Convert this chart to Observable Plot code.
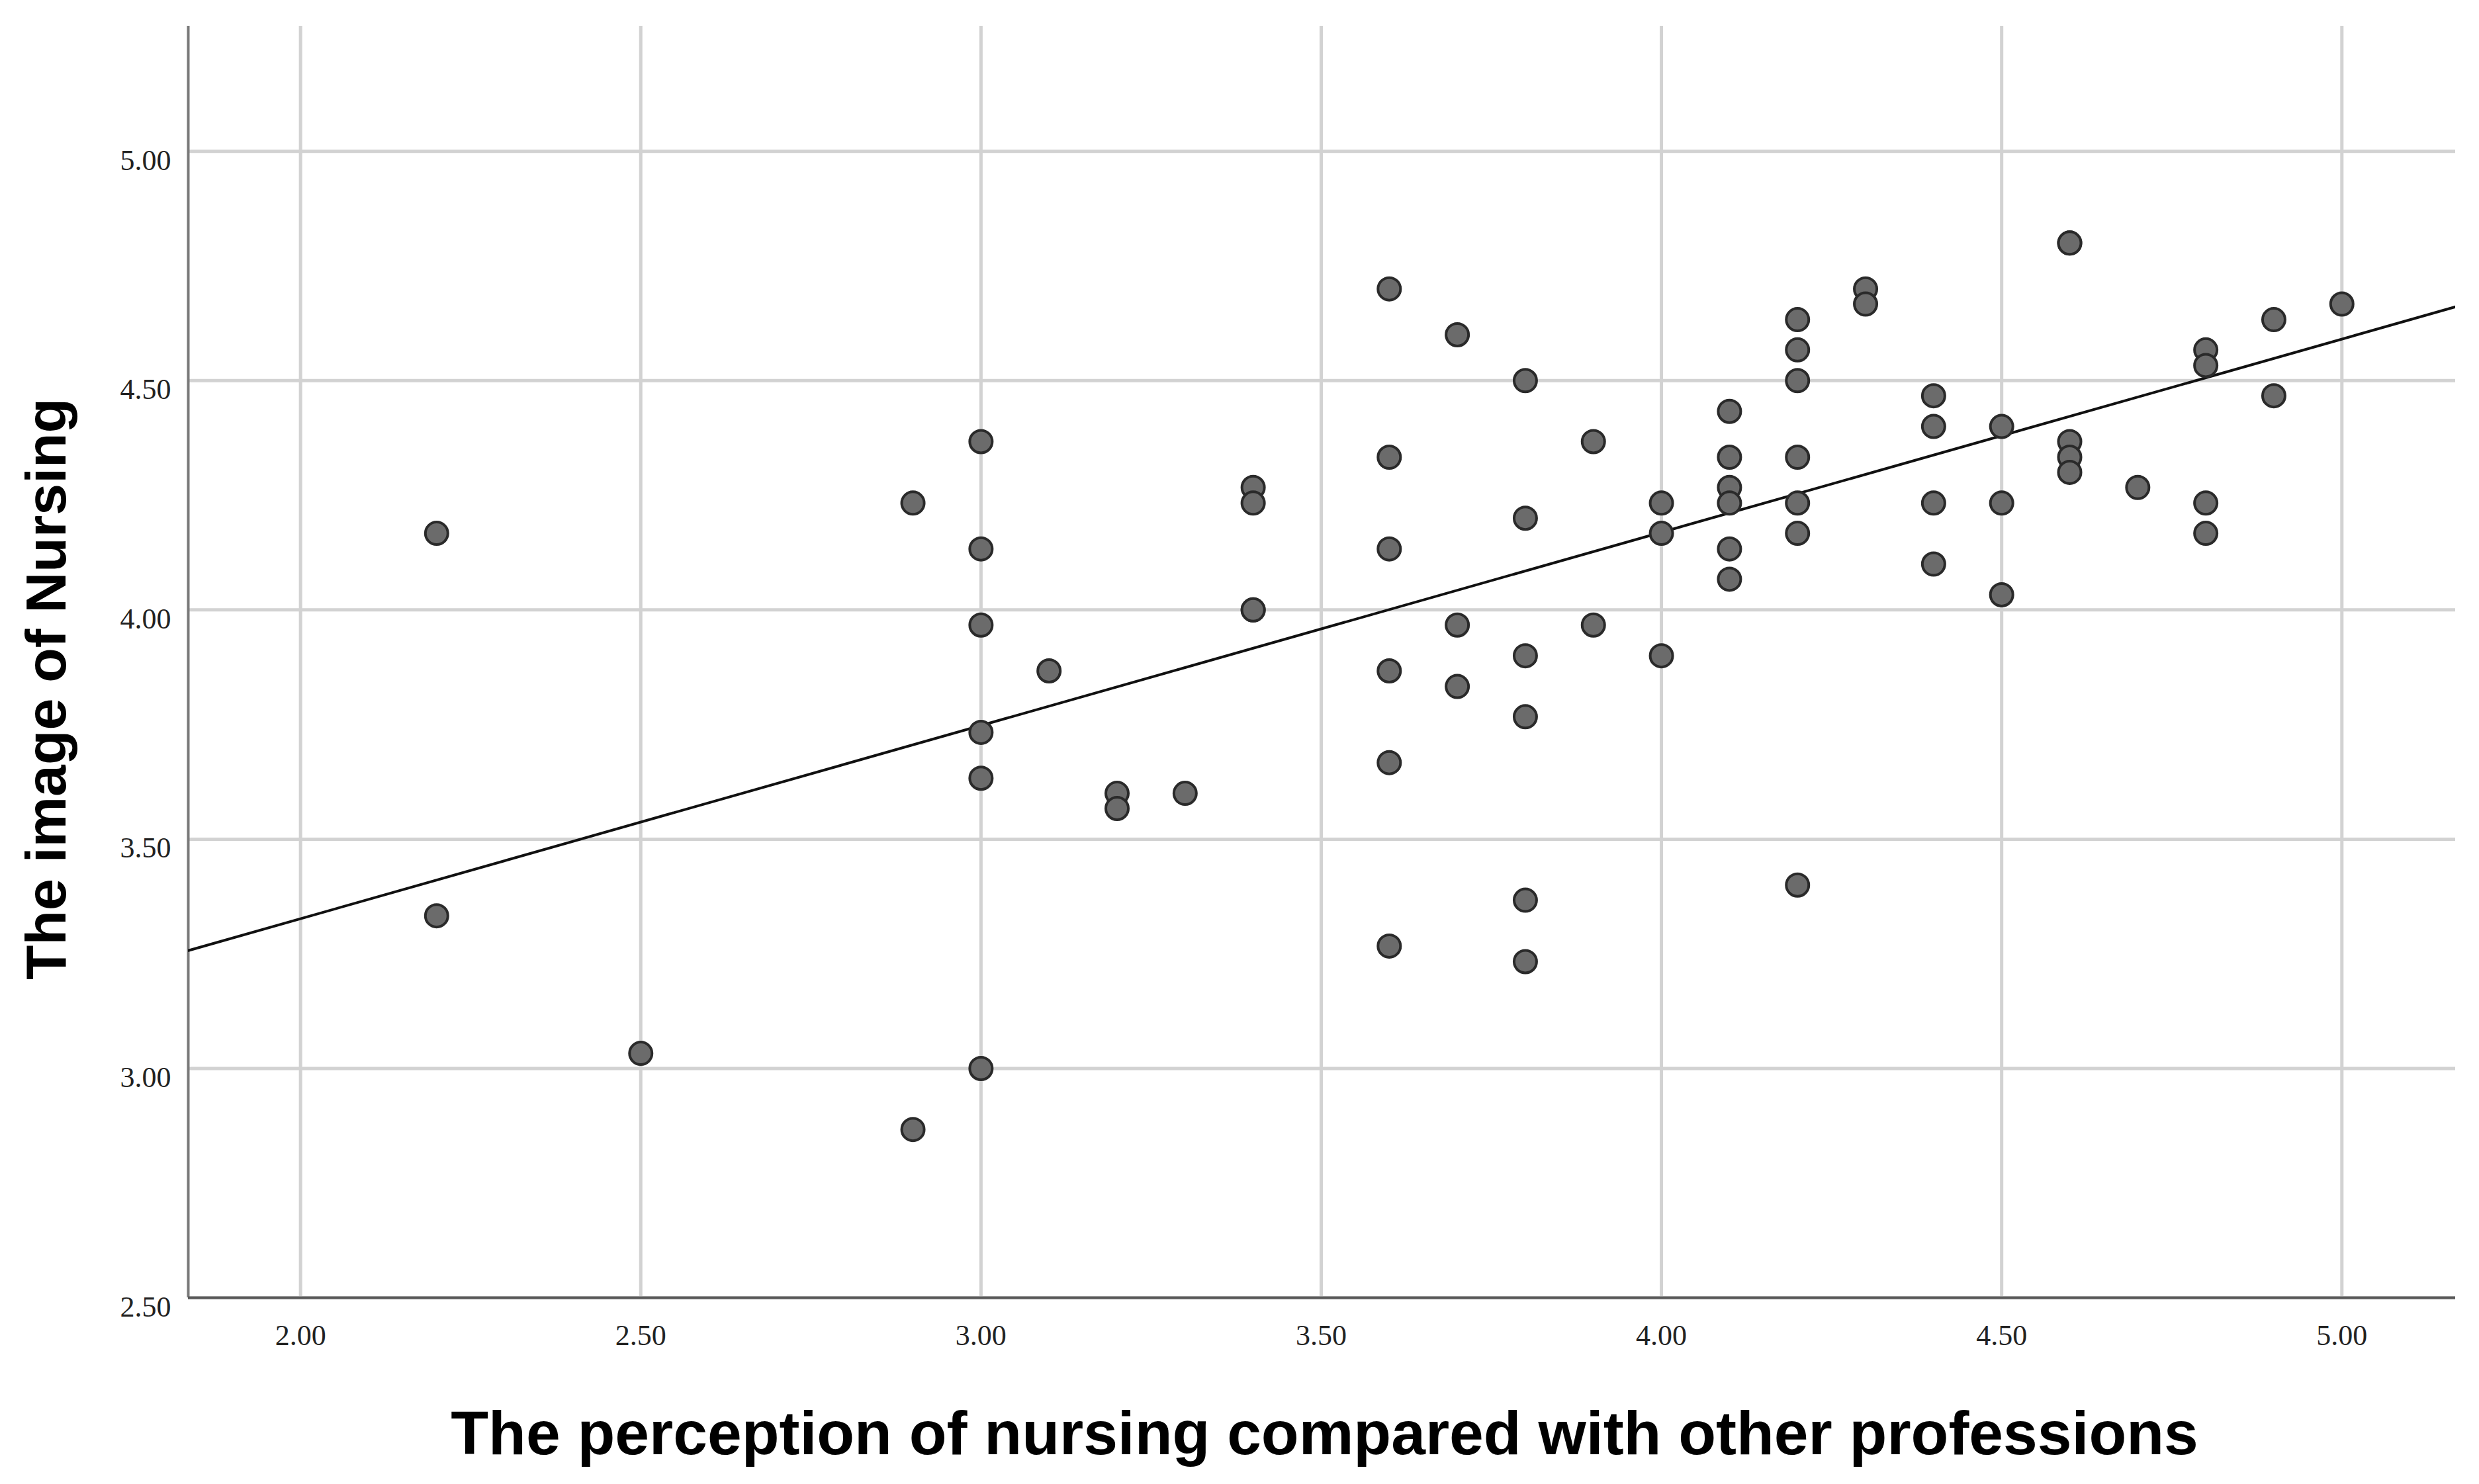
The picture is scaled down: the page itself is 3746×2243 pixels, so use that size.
<!DOCTYPE html>
<html>
<head>
<meta charset="utf-8">
<script src="https://cdn.jsdelivr.net/npm/d3@7"></script>
<script src="https://cdn.jsdelivr.net/npm/@observablehq/plot@0.6"></script>
<style>
  html, body { margin: 0; padding: 0; background: #ffffff; }
  #chart { width: 3746px; height: 2243px; }
</style>
</head>
<body>
<div id="chart"></div>
<script>
// Perception of nursing compared with other professions (x)
const perception = [
  2.2, 2.2, 2.5, 2.9, 2.9,
  3.0, 3.0, 3.0, 3.0, 3.0, 3.0,
  3.1, 3.2, 3.2, 3.3,
  3.4, 3.4, 3.4, 3.4,
  3.6, 3.6, 3.6, 3.6, 3.6, 3.6,
  3.7, 3.7, 3.7,
  3.8, 3.8, 3.8, 3.8, 3.8, 3.8,
  3.9, 3.9,
  4.0, 4.0, 4.0,
  4.1, 4.1, 4.1, 4.1, 4.1, 4.1,
  4.2, 4.2, 4.2, 4.2, 4.2, 4.2, 4.2,
  4.3, 4.3,
  4.4, 4.4, 4.4, 4.4,
  4.5, 4.5, 4.5,
  4.6, 4.6, 4.6, 4.6, 4.6,
  4.7,
  4.8, 4.8, 4.8, 4.8,
  4.9, 4.9,
  5.0
];
// The image of Nursing (y)
const image = [
  4.167, 3.333, 3.033, 4.233, 2.867,
  4.367, 4.133, 3.967, 3.733, 3.633, 3.000,
  3.867, 3.600, 3.567, 3.600,
  4.267, 4.233, 4.000, 4.000,
  4.700, 4.333, 4.133, 3.867, 3.667, 3.267,
  4.600, 3.967, 3.833,
  4.500, 4.200, 3.900, 3.767, 3.367, 3.233,
  4.367, 3.967,
  4.233, 4.167, 3.900,
  4.433, 4.333, 4.267, 4.233, 4.133, 4.067,
  4.633, 4.567, 4.500, 4.333, 4.233, 4.167, 3.400,
  4.700, 4.667,
  4.467, 4.400, 4.233, 4.100,
  4.400, 4.233, 4.033,
  4.800, 4.800, 4.367, 4.333, 4.300,
  4.267,
  4.567, 4.533, 4.233, 4.167,
  4.633, 4.467,
  4.667
];
// Fit line (y = intercept + slope * x)
const fitIntercept = 2.484;
const fitSlope = 0.4213;

const xTicks = [2.0, 2.5, 3.0, 3.5, 4.0, 4.5, 5.0];
const yTicks = [2.5, 3.0, 3.5, 4.0, 4.5, 5.0];
const xDomain = [1.835, 5.167];
const yDomain = [2.5, 5.273];
const xTitle = "The perception of nursing compared with other professions";
const yTitle = "The image of Nursing";

const data = perception.map((x, i) => ({x, y: image[i]}));
const fit = xDomain.map(x => ({x, y: fitIntercept + fitSlope * x}));

const fmt = d3.format(".2f");

const chart = Plot.plot({
  width: 3746,
  height: 2243,
  marginLeft: 284,
  marginRight: 36,
  marginTop: 39,
  marginBottom: 282,
  style: {background: "#ffffff", fontFamily: "Liberation Sans, Arial, sans-serif"},
  x: {domain: xDomain},
  y: {domain: yDomain},
  marks: [
    Plot.gridX(xTicks, {stroke: "#d2d2d2", strokeWidth: 5, strokeOpacity: 1}),
    Plot.gridY(yTicks, {stroke: "#d2d2d2", strokeWidth: 5, strokeOpacity: 1}),
    Plot.ruleX([xDomain[0]], {stroke: "#7a7a7a", strokeWidth: 4}),
    Plot.ruleY([yDomain[0]], {stroke: "#5a5a5a", strokeWidth: 4}),
    Plot.axisX(xTicks, {
      tickSize: 0, tickPadding: 40, tickFormat: fmt, label: null,
      fontSize: 44, fontFamily: "Liberation Serif, Times New Roman, serif", fill: "#222"
    }),
    Plot.axisY(yTicks, {
      tickSize: 0, tickPadding: 26, tickFormat: fmt, label: null, dy: 14,
      fontSize: 44, fontFamily: "Liberation Serif, Times New Roman, serif", fill: "#222"
    }),
    Plot.line(fit, {x: "x", y: "y", stroke: "#111", strokeWidth: 4, clip: true}),
    Plot.dot(data, {x: "x", y: "y", r: 17, fill: "#6b6b6b", fillOpacity: 1, stroke: "#2a2a2a", strokeWidth: 4}),
    Plot.text([xTitle], {
      text: d => d, frameAnchor: "bottom", lineAnchor: "bottom", textAnchor: "middle",
      dx: 4, dy: 236, fontSize: 93, fontWeight: "bold", fill: "#000"
    }),
    Plot.text([yTitle], {
      text: d => d, frameAnchor: "left", lineAnchor: "bottom", textAnchor: "middle",
      rotate: -90, dx: -186, dy: 41, fontSize: 86, fontWeight: "bold", fill: "#000"
    })
  ]
});
document.getElementById("chart").appendChild(chart);
</script>
</body>
</html>
